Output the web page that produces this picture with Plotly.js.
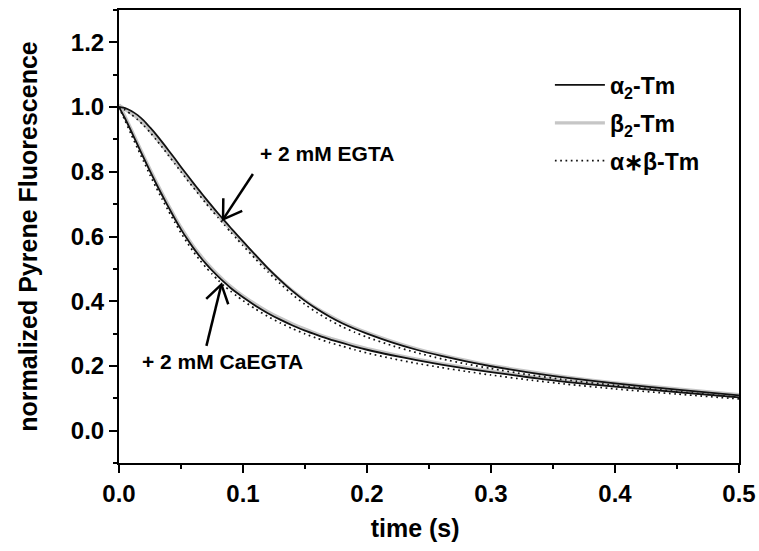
<!DOCTYPE html>
<html>
<head>
<meta charset="utf-8">
<script src="https://cdn.plot.ly/plotly-3.0.1.min.js"></script>
<style>html,body{margin:0;padding:0;background:#fff;}#chart{width:759px;height:551px;}</style>
</head>
<body>
<div id="chart"></div>
<script>
var time = [0,0.005,0.01,0.015,0.02,0.025,0.03,0.035,0.04,0.045,0.05,0.055,0.06,0.065,0.07,0.075,0.08,0.085,0.09,0.095,0.1,0.11,0.12,0.13,0.14,0.15,0.16,0.17,0.18,0.19,0.2,0.22,0.24,0.26,0.28,0.3,0.33,0.36,0.4,0.45,0.5];

var egtaAlpha2 = [1.000,0.997,0.988,0.975,0.958,0.937,0.915,0.891,0.866,0.841,0.815,0.790,0.765,0.741,0.717,0.694,0.671,0.649,0.627,0.606,0.585,0.543,0.502,0.465,0.431,0.401,0.375,0.352,0.332,0.315,0.300,0.273,0.250,0.231,0.214,0.199,0.180,0.164,0.146,0.127,0.109];
var egtaBeta2 = [1.006,0.993,0.980,0.965,0.947,0.926,0.904,0.880,0.856,0.831,0.806,0.781,0.757,0.733,0.710,0.687,0.665,0.643,0.622,0.601,0.581,0.540,0.501,0.465,0.432,0.403,0.377,0.355,0.335,0.318,0.303,0.276,0.253,0.234,0.217,0.202,0.183,0.166,0.148,0.129,0.111];
var egtaAlphaBeta = [1.000,0.991,0.977,0.961,0.943,0.922,0.899,0.875,0.850,0.825,0.800,0.775,0.751,0.727,0.703,0.680,0.658,0.636,0.614,0.593,0.572,0.531,0.491,0.454,0.420,0.390,0.364,0.341,0.321,0.304,0.289,0.263,0.241,0.222,0.206,0.192,0.173,0.157,0.140,0.121,0.103];

var caAlpha2 = [1.000,0.964,0.924,0.883,0.842,0.802,0.763,0.726,0.690,0.655,0.622,0.592,0.564,0.539,0.516,0.495,0.476,0.458,0.441,0.426,0.412,0.386,0.363,0.343,0.325,0.309,0.295,0.282,0.271,0.260,0.250,0.233,0.218,0.204,0.192,0.181,0.165,0.151,0.136,0.119,0.103];
var caBeta2 = [1.008,0.970,0.930,0.889,0.848,0.808,0.769,0.732,0.696,0.661,0.628,0.598,0.570,0.545,0.522,0.501,0.481,0.463,0.446,0.431,0.417,0.391,0.368,0.348,0.330,0.314,0.299,0.286,0.275,0.264,0.254,0.237,0.221,0.207,0.195,0.184,0.168,0.154,0.139,0.121,0.105];
var caAlphaBeta = [1.000,0.957,0.914,0.872,0.831,0.790,0.751,0.714,0.678,0.644,0.611,0.581,0.553,0.528,0.505,0.484,0.465,0.447,0.431,0.416,0.402,0.376,0.353,0.333,0.315,0.299,0.285,0.272,0.261,0.250,0.240,0.223,0.208,0.195,0.183,0.172,0.157,0.144,0.129,0.113,0.098];

var seriesNames = ['<b>α<sub>2</sub>-Tm</b>', '<b>β<sub>2</sub>-Tm</b>', '<b>α∗β-Tm</b>'];
var xTickVals = [0, 0.1, 0.2, 0.3, 0.4, 0.5];
var yTickVals = [0, 0.2, 0.4, 0.6, 0.8, 1.0, 1.2];
var xRange = [0, 0.5];
var yRange = [-0.1, 1.3];

// annotation anchor points (data units)
var egtaLabel = {x: 0.1677, y: 0.858};
var caLabel = {x: 0.0836, y: 0.214};
var egtaArrow = {tip: [0.0839, 0.653], tail: [0.108, 0.793]};
var caArrow = {tip: [0.0826, 0.452], tail: [0.0705, 0.262]};

var FONT = 'Arial, "Liberation Sans", Helvetica, sans-serif';
var M = {l: 119, r: 20, t: 10, b: 88};
var W = 759 - M.l - M.r, H = 551 - M.t - M.b;

function toPx(p) { return [(p[0]-xRange[0])/(xRange[1]-xRange[0])*W, (yRange[1]-p[1])/(yRange[1]-yRange[0])*H]; }
function toData(q) { return [xRange[0] + q[0]/W*(xRange[1]-xRange[0]), yRange[1] - q[1]/H*(yRange[1]-yRange[0])]; }
function arrowShapes(a) {
  var tip = toPx(a.tip), tail = toPx(a.tail);
  var dx = tail[0]-tip[0], dy = tail[1]-tip[1], L = Math.sqrt(dx*dx+dy*dy);
  var ux = dx/L, uy = dy/L, len = 21, ang = 0.57;
  function rot(s) { var c = Math.cos(s*ang), sn = Math.sin(s*ang); return [tip[0] + len*(ux*c - uy*sn), tip[1] + len*(ux*sn + uy*c)]; }
  var a1 = toData(rot(1)), a2 = toData(rot(-1));
  var ln = {color: '#000', width: 2.5};
  return [
    {type: 'line', xref: 'x', yref: 'y', x0: a.tail[0], y0: a.tail[1], x1: a.tip[0], y1: a.tip[1], line: ln},
    {type: 'path', xref: 'x', yref: 'y', path: 'M' + a1[0] + ',' + a1[1] + 'L' + a.tip[0] + ',' + a.tip[1] + 'L' + a2[0] + ',' + a2[1], line: ln}
  ];
}

var greyLine = {color: '#c6c6c6', width: 3.2, shape: 'spline', smoothing: 0.6};
var blackLine = {color: '#111111', width: 1.8, shape: 'spline', smoothing: 0.6};
var dotLine = {color: '#111111', width: 1.7, dash: '1.7px,3.6px', shape: 'spline', smoothing: 0.6};

var traces = [
  {x: time, y: egtaBeta2, mode: 'lines', line: greyLine, name: seriesNames[1], legendgroup: 'b', legendrank: 2, showlegend: true},
  {x: time, y: caBeta2, mode: 'lines', line: greyLine, name: seriesNames[1], legendgroup: 'b', showlegend: false},
  {x: time, y: egtaAlpha2, mode: 'lines', line: blackLine, name: seriesNames[0], legendgroup: 'a', legendrank: 1, showlegend: true},
  {x: time, y: caAlpha2, mode: 'lines', line: blackLine, name: seriesNames[0], legendgroup: 'a', showlegend: false},
  {x: time, y: egtaAlphaBeta, mode: 'lines', line: dotLine, name: seriesNames[2], legendgroup: 'c', legendrank: 3, showlegend: true},
  {x: time, y: caAlphaBeta, mode: 'lines', line: dotLine, name: seriesNames[2], legendgroup: 'c', showlegend: false}
];

var layout = {
  width: 759, height: 551,
  margin: M,
  paper_bgcolor: '#ffffff', plot_bgcolor: '#ffffff',
  font: {family: FONT, color: '#000', size: 22},
  showlegend: true,
  legend: {x: 0.695, y: 0.882, xanchor: 'left', yanchor: 'top', bgcolor: 'rgba(0,0,0,0)',
           font: {family: FONT, size: 23, color: '#000'}, tracegroupgap: 5, itemwidth: 50},
  xaxis: {
    range: xRange, tickvals: xTickVals, tickformat: '.1f',
    ticks: 'outside', ticklen: 8, tickwidth: 2, tickcolor: '#000',
    showline: true, linewidth: 2, linecolor: '#000', mirror: true,
    showgrid: false, zeroline: false,
    tickfont: {family: FONT, size: 24, color: '#000', weight: 'bold'},
    minor: {dtick: 0.05, tick0: 0, ticks: 'outside', ticklen: 4, tickwidth: 2, tickcolor: '#000', showgrid: false},
    title: {text: '<b>time (s)</b>&nbsp;&nbsp;&nbsp;&nbsp;', font: {family: FONT, size: 25, color: '#000'}, standoff: 14}
  },
  yaxis: {
    range: yRange, tickvals: yTickVals, tickformat: '.1f',
    ticks: 'outside', ticklen: 8, tickwidth: 2, tickcolor: '#000',
    showline: true, linewidth: 2, linecolor: '#000', mirror: true,
    showgrid: false, zeroline: false,
    tickfont: {family: FONT, size: 24, color: '#000', weight: 'bold'},
    minor: {dtick: 0.1, tick0: 0, ticks: 'outside', ticklen: 4, tickwidth: 2, tickcolor: '#000', showgrid: false},
    title: {text: '<b>normalized Pyrene Fluorescence</b>', font: {family: FONT, size: 25, color: '#000'}, standoff: 26}
  },
  annotations: [
    {x: egtaLabel.x, y: egtaLabel.y, xref: 'x', yref: 'y', text: '<b>+ 2 mM EGTA</b>', showarrow: false,
     font: {family: FONT, size: 21, color: '#000'}},
    {x: caLabel.x, y: caLabel.y, xref: 'x', yref: 'y', text: '<b>+ 2 mM CaEGTA</b>', showarrow: false,
     font: {family: FONT, size: 21, color: '#000'}}
  ],
  shapes: arrowShapes(egtaArrow).concat(arrowShapes(caArrow))
};

Plotly.newPlot('chart', traces, layout, {displayModeBar: false, staticPlot: true});
</script>
</body>
</html>
